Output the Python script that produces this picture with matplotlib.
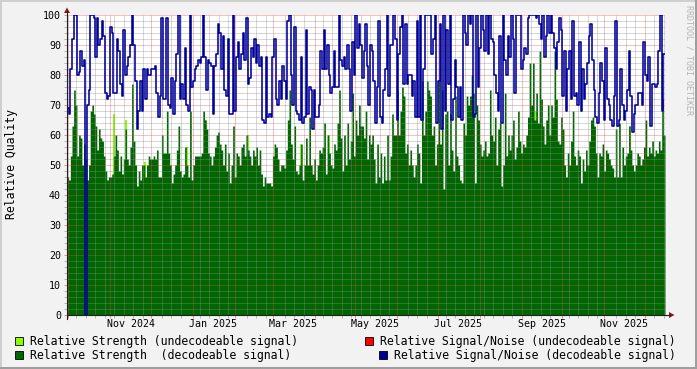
import matplotlib
matplotlib.use("Agg")
import matplotlib.pyplot as plt
import matplotlib.dates as mdates
import matplotlib.transforms as mtransforms
from matplotlib.patches import Rectangle, Polygon
from matplotlib.lines import Line2D
import numpy as np
import pandas as pd

# ---------------- data ----------------
START = "2024-09-30"
END = "2025-12-16"

strength = [
    46,45,53,63,75,70,53,60,59,50, 57,52,45,50,68,70,67,63,55,62, 59,58,53,48,45,46,46,47,53,60,
    55,48,53,47,52,62,52,50,56,77, 58,50,43,48,45,50,50,46,50,53, 52,52,53,52,55,46,46,60,54,54,
    68,54,50,44,47,50,55,63,48,46, 47,56,50,46,68,45,50,53,53,53, 53,54,68,65,62,54,53,50,53,56,
    60,61,57,55,50,57,48,54,44,50, 63,46,54,53,50,56,57,53,60,55, 53,50,55,53,56,50,55,47,43,46, 44,44,
    44,43,53,57,56,52,48,50,50,49, 55,65,75,57,52,63,48,47,50,57, 45,50,59,50,66,50,47,52,45,50,
    55,54,56,64,47,60,54,50,49,57, 55,64,75,59,48,60,50,64,52,58, 74,53,65,60,70,63,63,59,68,52, 60,57,
    60,52,44,57,46,54,44,53,45,60, 45,53,67,60,60,75,60,68,76,73, 54,57,50,55,50,46,50,57,54,44,
    78,60,68,78,75,73,60,63,50,57, 78,57,75,42,67,68,50,67,55,48, 73,53,50,45,44,64,60,73,70,73, 80,74,
    44,70,65,57,53,55,58,53,54,75, 60,58,66,50,62,64,43,50,74,53, 60,55,60,65,52,56,68,58,54,57,
    56,60,66,84,70,84,65,74,64,88, 72,63,57,65,70,60,70,66,88,72, 58,57,66,62,50,46,54,50,58,68, 53,50,
    55,53,44,52,48,55,50,58,65,66, 63,54,46,54,53,57,48,55,54,52, 50,49,46,62,46,64,46,56,50,53,
    54,63,55,50,48,50,54,53,50,52, 56,65,53,56,54,58,53,55,54,58, 55,72,60,
]

snr = [
    69,67,82,92,100,100,80,81,88,83, 85,0,70,75,100,100,99,86,99,90, 92,98,93,74,72,73,96,94,74,74,
    92,88,77,73,95,80,83,86,90,100, 90,78,62,68,78,68,82,72,82,80, 80,82,82,83,74,66,73,99,72,72,
    99,70,69,79,67,78,87,100,72,77, 72,89,70,68,100,76,78,82,83,85, 84,86,100,86,75,85,84,83,67,83,
    87,97,94,82,93,75,73,92,67,67, 100,68,86,91,82,87,94,85,99,77, 79,89,86,92,84,90,83,86,65,64, 86,66,
    67,66,86,92,72,70,78,72,83,78, 72,98,100,80,70,96,68,67,65,86, 64,66,95,67,76,75,62,75,66,66,
    70,88,82,95,82,90,80,74,76,88, 76,76,100,85,83,86,82,90,82,68, 91,80,100,89,97,90,79,88,97,83, 70,90,
    88,78,64,76,98,66,64,75,82,100, 73,90,90,100,92,65,87,96,100,77, 97,77,80,80,73,78,66,98,66,100,
    65,82,100,100,100,100,87,92,100,64, 78,97,62,100,68,95,77,100,65,72, 85,76,66,76,65,100,94,90,100,97, 100,66,
    67,100,76,89,100,95,88,100,87,100, 92,91,80,74,68,93,64,100,85,80, 93,86,100,92,74,100,100,100,82,85,
    89,87,99,100,100,100,100,99,100,97, 92,100,86,93,100,94,100,94,89,82, 91,99,95,73,88,68,82,88,72,98, 73,74,
    70,91,68,82,72,77,84,93,97,85, 75,66,64,74,84,78,65,89,72,70, 65,63,73,98,63,65,82,70,65,68,
    75,88,73,61,67,70,70,74,74,70, 91,80,78,86,63,77,77,76,77,88, 100,68,87,
]

undec_dates = ["2024-11-03", "2024-11-12", "2024-11-26", "2024-12-27", "2025-01-10",
               "2025-02-10", "2025-03-21", "2025-04-11", "2025-08-21", "2025-09-11",
               "2025-09-24", "2025-11-17", "2025-11-20"]
undec_strength = [67, 65, 51, 56, 65, 60, 57, 60, 53, 68, 64, 52, 63]

label_dates = ["2024-11-16", "2025-01-16", "2025-03-16", "2025-05-16",
               "2025-07-16", "2025-09-16", "2025-11-16"]
month_labels = ["Nov 2024", "Jan 2025", "Mar 2025", "May 2025",
                "Jul 2025", "Sep 2025", "Nov 2025"]
y_ticks = [0, 10, 20, 30, 40, 50, 60, 70, 80, 90, 100]

legend_labels = ["Relative Strength (undecodeable signal)",
                 "Relative Signal/Noise (undecodeable signal)",
                 "Relative Strength  (decodeable signal)",
                 "Relative Signal/Noise (decodeable signal)"]

C_LGREEN = "#88FF00"
C_DGREEN = "#006600"
C_RED = "#FF0000"
C_BLUE = "#000099"
C_BACK = "#F2F2F2"
C_GRID = (0.56, 0.56, 0.56, 0.35)
C_MGRID = (0.87, 0.31, 0.31, 0.35)
C_ARROW = (0.50, 0.12, 0.12)
C_AXIS = (0.12, 0.12, 0.12)
MONO = "DejaVu Sans Mono"

# ---------------- figure ----------------
W, H = 697, 369
fig = plt.figure(figsize=(W / 100, H / 100), dpi=100, facecolor=C_BACK)


def fx(x):
    return x / W


def fy(y):
    return 1 - y / H


X0, X1, Y0, Y1 = 67, 665, 15, 315
ax = fig.add_axes([fx(X0), fy(Y1), (X1 - X0) / W, (Y1 - Y0) / H])
ax.set_facecolor("white")
for sp in ax.spines.values():
    sp.set_visible(False)

edges = pd.date_range(START, END, periods=len(strength) + 1)
g = np.append(strength, strength[-1])
s = np.append(snr, snr[-1])
step_days = (pd.Timestamp(END) - pd.Timestamp(START)).days / len(strength)
t0, t1 = pd.Timestamp(START), pd.Timestamp(END)

ax.bar(pd.to_datetime(undec_dates), undec_strength, width=step_days, align="edge",
       color=C_LGREEN, lw=0, zorder=1.5)
ax.fill_between(edges, 0, g, step="post", color=C_DGREEN, lw=0, zorder=2)

# grid drawn manually on top of the area
minor_x = mdates.WeekdayLocator(byweekday=mdates.MO).tick_values(t0, t1)
major_x = mdates.MonthLocator(bymonthday=1).tick_values(t0, t1)
major_x = [v for v in major_x if mdates.date2num(t0) <= v <= mdates.date2num(t1)]
minor_x = [v for v in minor_x if mdates.date2num(t0) <= v <= mdates.date2num(t1)
           and all(abs(v - m) > 2 for m in major_x)]
minor_y = [v for v in range(0, 101, 2) if v % 10 != 0]
ax.vlines(minor_x, 0, 100, colors=[C_GRID], lw=0.72, zorder=2.5, snap=True)
ax.hlines(minor_y, mdates.date2num(t0), mdates.date2num(t1), colors=[C_GRID], lw=0.72,
          zorder=2.5, snap=True)
ax.vlines(major_x, 0, 100, colors=[C_MGRID], lw=0.72, zorder=2.6, snap=True)
ax.hlines(y_ticks[1:], mdates.date2num(t0), mdates.date2num(t1), colors=[C_MGRID], lw=0.72,
          zorder=2.6, snap=True)

ax.step(edges, s, where="post", color=C_BLUE, lw=1.15, zorder=3)

ax.set_xlim(t0, t1)
ax.set_ylim(0, 100)
ax.set_xticks(major_x)
ax.set_xticks(minor_x, minor=True)
ax.xaxis.set_major_formatter(plt.NullFormatter())
ax.set_yticks(y_ticks)
ax.set_yticks(minor_y, minor=True)
ax.set_yticklabels([str(v) for v in y_ticks], fontfamily=MONO, fontsize=7.2)
ax.tick_params(which="major", axis="both", length=2.2, width=0.72,
               color=(0.87, 0.31, 0.31, 0.6), pad=2.2)
ax.tick_params(which="minor", axis="both", length=2.2, width=0.72,
               color=(0.56, 0.56, 0.56, 0.6))

# month labels centred mid-month
blend = mtransforms.blended_transform_factory(ax.transData, fig.transFigure)
for d, lab in zip(label_dates, month_labels):
    ax.text(mdates.date2num(pd.Timestamp(d)), fy(324), lab, transform=blend,
            ha="center", va="center", fontfamily=MONO, fontsize=7.2)

# axes lines and arrows
fig.add_artist(Line2D([fx(X0), fx(670)], [fy(Y1), fy(Y1)], color=C_AXIS, lw=0.8))
fig.add_artist(Line2D([fx(X0), fx(X0)], [fy(319), fy(11)], color=C_AXIS, lw=0.8))
fig.add_artist(Polygon([(fx(64), fy(13)), (fx(70), fy(13)), (fx(67), fy(7.5))],
                       closed=True, color=C_ARROW, lw=0))
fig.add_artist(Polygon([(fx(669), fy(312)), (fx(669), fy(318)), (fx(674.5), fy(315))],
                       closed=True, color=C_ARROW, lw=0))

# y label + watermark
fig.text(fx(11.5), fy(164), "Relative Quality", rotation=90, ha="center", va="center",
         fontfamily=MONO, fontsize=8.3)
fig.text(fx(688.5), fy(60), "RRDTOOL / TOBI OETIKER", rotation=270, ha="center", va="center",
         fontfamily=MONO, fontsize=6, color="#B4B4B4")

# legend
leg = [(15, 337, C_LGREEN, 30, 341, legend_labels[0]),
       (365, 337, C_RED, 380, 341, legend_labels[1]),
       (15, 351, C_DGREEN, 30, 355, legend_labels[2]),
       (379, 351, C_BLUE, 394, 355, legend_labels[3])]
for bx, by, col, tx, ty, lab in leg:
    fig.add_artist(Rectangle((fx(bx), fy(by + 8)), 8 / W, 8 / H, facecolor=col,
                             edgecolor="black", lw=0.6, transform=fig.transFigure))
    fig.text(fx(tx), fy(ty), lab, ha="left", va="center", fontfamily=MONO, fontsize=8.3)

# frame shading
fig.add_artist(Rectangle((0, fy(2)), 1, 2 / H, facecolor="#CFCFCF", lw=0, transform=fig.transFigure))
fig.add_artist(Rectangle((0, 0), 2 / W, 1, facecolor="#CFCFCF", lw=0, transform=fig.transFigure))
fig.add_artist(Rectangle((0, 0), 1, 2 / H, facecolor="#9E9E9E", lw=0, transform=fig.transFigure))
fig.add_artist(Rectangle((fx(W - 2), 0), 2 / W, 1, facecolor="#9E9E9E", lw=0, transform=fig.transFigure))

fig.savefig("out.png", dpi=100, facecolor=C_BACK)
